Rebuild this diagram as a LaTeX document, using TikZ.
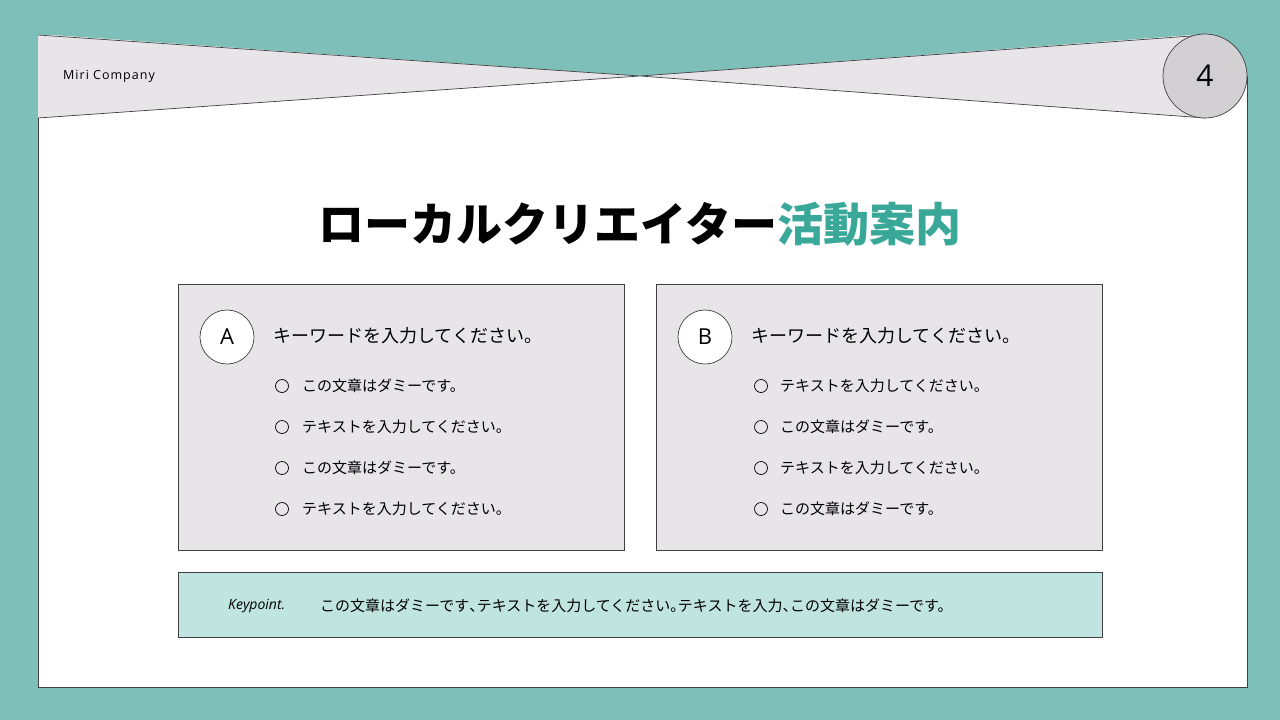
\documentclass[tikz,border=0pt]{standalone}
\usepackage{fontspec}
\setmainfont{Noto Sans CJK JP}
\setsansfont{Open Sans}
\definecolor{teal0}{HTML}{7FBFBA}
\definecolor{gr}{HTML}{E7E5E7}
\definecolor{gr2}{HTML}{D2D0D3}
\definecolor{ttl}{HTML}{3AA898}
\definecolor{kp}{HTML}{C0E4E0}
\newcommand{\hp}[1]{\makebox[7.5pt][l]{#1}}
\begin{document}
\begin{tikzpicture}[x=1pt,y=-1pt,
  ln/.style={draw=black!75,line width=0.7pt},
  bul/.style={circle,draw=black,line width=0.7pt,minimum size=13pt,inner sep=0pt},
  itm/.style={anchor=west,font=\fontsize{15}{15}\selectfont,inner sep=0pt},
  hd/.style={anchor=west,font=\fontsize{18}{18}\selectfont,inner sep=0pt},
  lt/.style={circle,fill=white,ln,minimum size=54pt,inner sep=0pt,font=\sffamily\fontsize{22}{22}\selectfont}]
\useasboundingbox (0,0) rectangle (1280,720);
\fill[teal0] (0,0) rectangle (1280,720);
\fill[white] (38,35) rectangle (1247,687);
\fill[teal0] (38,34) -- (640,76) -- (1205,34) -- cycle;
\fill[teal0] (1205,0) rectangle (1280,76);
\draw[ln] (38,35) -- (38,687) -- (1247,687) -- (1247,76);
\fill[gr] (38,35) -- (640,76) -- (38,118) -- cycle;
\fill[gr] (640,76) -- (1205,35) -- (1205,118) -- cycle;
\draw[ln] (38,35) -- (640,76) -- (38,118);
\draw[ln] (1205,35) -- (640,76) -- (1205,118);
\node[circle,fill=gr2,ln,minimum size=84pt,inner sep=0pt,font=\sffamily\fontsize{30}{30}\selectfont\selectfont] (pg) at (1205,76) {4};
\node[anchor=west,font=\sffamily\fontsize{12.5}{12.5}\selectfont,inner sep=0pt] (co) at (63,76) {\addfontfeature{LetterSpace=8}Miri Company};
\node[font=\fontsize{46}{46}\selectfont\bfseries,inner sep=0pt] (t) at (640,224) {ローカルクリエイター\textcolor{ttl}{活動案内}};
% boxes
\filldraw[fill=gr,ln] (178,284) rectangle (624,550);
\filldraw[fill=gr,ln] (656,284) rectangle (1102,550);
\filldraw[fill=kp,ln] (178,572) rectangle (1102,637);
\node[lt] (a) at (227,337) {A};
\node[lt] (b) at (705,337) {B};
\node[hd] (ha) at (273,336) {キーワードを入力してください。};
\node[hd] (hb) at (751,336) {キーワードを入力してください。};
\foreach \y/\t [count=\i] in {386/この文章はダミーです。,427/テキストを入力してください。,468/この文章はダミーです。,509/テキストを入力してください。}{
  \node[bul] (ba\i) at (282,\y) {};
  \node[itm] (ta\i) at (302,\y) {\t};}
\foreach \y/\t [count=\i] in {386/テキストを入力してください。,427/この文章はダミーです。,468/テキストを入力してください。,509/この文章はダミーです。}{
  \node[bul] (bb\i) at (761,\y) {};
  \node[itm] (tb\i) at (780,\y) {\t};}
\node[anchor=west,inner sep=0pt,font=\sffamily\itshape\fontsize{14}{14}\selectfont] (kpl) at (228,606) {Keypoint.};
\node[itm] (kpt) at (320,606) {この文章はダミーです\hp{、}テキストを入力してください\hp{。}テキストを入力\hp{、}この文章はダミーです。};
\end{tikzpicture}
\end{document}
